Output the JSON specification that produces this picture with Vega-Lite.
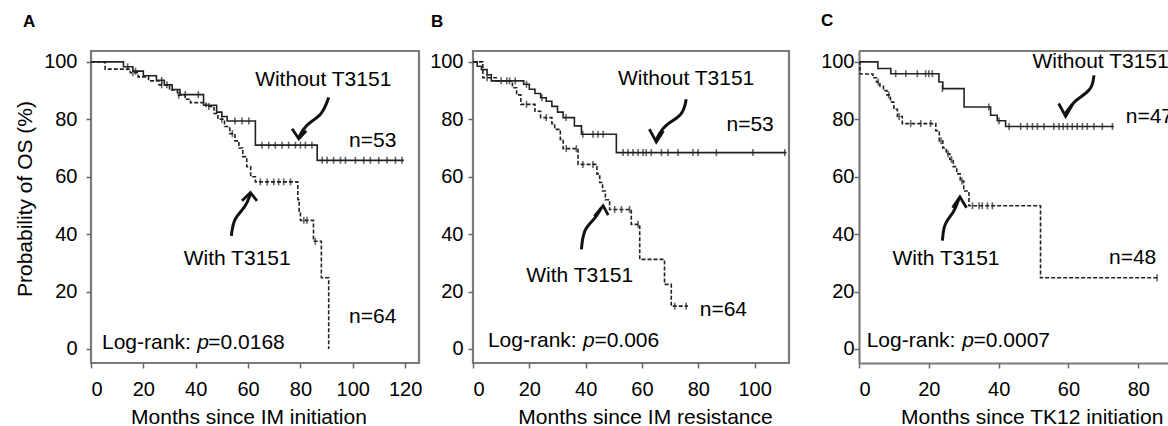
{
  "$schema": "https://vega.github.io/schema/vega-lite/v6.json",
  "description": "Kaplan-Meier OS curves with and without T3151, three panels",
  "padding": {"top": 11, "right": 0, "bottom": 0, "left": 13},
  "background": "white",
  "datasets": {
    "km": [
      {"panel": "A", "group": "Without", "months": 0, "os": 100},
      {"panel": "A", "group": "Without", "months": 12.4, "os": 98.3},
      {"panel": "A", "group": "Without", "months": 16, "os": 96.8},
      {"panel": "A", "group": "Without", "months": 20, "os": 95.2},
      {"panel": "A", "group": "Without", "months": 25, "os": 93.6},
      {"panel": "A", "group": "Without", "months": 28, "os": 92},
      {"panel": "A", "group": "Without", "months": 31, "os": 90.4},
      {"panel": "A", "group": "Without", "months": 34, "os": 88.6},
      {"panel": "A", "group": "Without", "months": 43, "os": 84.9},
      {"panel": "A", "group": "Without", "months": 48, "os": 82.5},
      {"panel": "A", "group": "Without", "months": 50, "os": 81},
      {"panel": "A", "group": "Without", "months": 52, "os": 79.4},
      {"panel": "A", "group": "Without", "months": 62.8, "os": 71},
      {"panel": "A", "group": "Without", "months": 86.4, "os": 65.7},
      {"panel": "A", "group": "Without", "months": 119.5, "os": 65.7},
      {"panel": "A", "group": "With", "months": 0, "os": 100},
      {"panel": "A", "group": "With", "months": 5.4, "os": 97.5},
      {"panel": "A", "group": "With", "months": 15, "os": 96.2},
      {"panel": "A", "group": "With", "months": 18, "os": 94.8},
      {"panel": "A", "group": "With", "months": 22, "os": 93.4},
      {"panel": "A", "group": "With", "months": 26, "os": 92},
      {"panel": "A", "group": "With", "months": 30, "os": 90.2},
      {"panel": "A", "group": "With", "months": 33, "os": 88.4},
      {"panel": "A", "group": "With", "months": 36, "os": 87},
      {"panel": "A", "group": "With", "months": 38, "os": 85.8},
      {"panel": "A", "group": "With", "months": 44, "os": 84.5},
      {"panel": "A", "group": "With", "months": 47, "os": 82},
      {"panel": "A", "group": "With", "months": 48.5, "os": 80},
      {"panel": "A", "group": "With", "months": 51, "os": 77.5},
      {"panel": "A", "group": "With", "months": 53, "os": 75},
      {"panel": "A", "group": "With", "months": 55, "os": 72.5},
      {"panel": "A", "group": "With", "months": 56.5, "os": 70},
      {"panel": "A", "group": "With", "months": 58, "os": 67},
      {"panel": "A", "group": "With", "months": 59.5, "os": 63.5},
      {"panel": "A", "group": "With", "months": 61, "os": 60},
      {"panel": "A", "group": "With", "months": 62.8, "os": 58.2},
      {"panel": "A", "group": "With", "months": 79, "os": 52},
      {"panel": "A", "group": "With", "months": 79.5, "os": 48},
      {"panel": "A", "group": "With", "months": 80, "os": 44.8},
      {"panel": "A", "group": "With", "months": 85, "os": 37.5},
      {"panel": "A", "group": "With", "months": 88, "os": 24.8},
      {"panel": "A", "group": "With", "months": 90.8, "os": 0},
      {"panel": "B", "group": "Without", "months": 0, "os": 100},
      {"panel": "B", "group": "Without", "months": 1.5, "os": 98.5},
      {"panel": "B", "group": "Without", "months": 3, "os": 97.3},
      {"panel": "B", "group": "Without", "months": 5, "os": 95.5},
      {"panel": "B", "group": "Without", "months": 6.5, "os": 93.4},
      {"panel": "B", "group": "Without", "months": 18, "os": 92.2},
      {"panel": "B", "group": "Without", "months": 20, "os": 90.5},
      {"panel": "B", "group": "Without", "months": 22, "os": 89},
      {"panel": "B", "group": "Without", "months": 24, "os": 87.5},
      {"panel": "B", "group": "Without", "months": 26, "os": 86.3},
      {"panel": "B", "group": "Without", "months": 28, "os": 84.5},
      {"panel": "B", "group": "Without", "months": 30, "os": 82.5},
      {"panel": "B", "group": "Without", "months": 32, "os": 80.6},
      {"panel": "B", "group": "Without", "months": 36, "os": 77.7},
      {"panel": "B", "group": "Without", "months": 38.5, "os": 74.8},
      {"panel": "B", "group": "Without", "months": 50.9, "os": 68.4},
      {"panel": "B", "group": "Without", "months": 111.3, "os": 68.4},
      {"panel": "B", "group": "With", "months": 0, "os": 100},
      {"panel": "B", "group": "With", "months": 3.5, "os": 94.5},
      {"panel": "B", "group": "With", "months": 8.3, "os": 93.4},
      {"panel": "B", "group": "With", "months": 14, "os": 91},
      {"panel": "B", "group": "With", "months": 15.5, "os": 88.5},
      {"panel": "B", "group": "With", "months": 17, "os": 85.2},
      {"panel": "B", "group": "With", "months": 22, "os": 82.8},
      {"panel": "B", "group": "With", "months": 24, "os": 80.6},
      {"panel": "B", "group": "With", "months": 28, "os": 78.5},
      {"panel": "B", "group": "With", "months": 29, "os": 76.5},
      {"panel": "B", "group": "With", "months": 31, "os": 73},
      {"panel": "B", "group": "With", "months": 32, "os": 69.8},
      {"panel": "B", "group": "With", "months": 37.3, "os": 64.3},
      {"panel": "B", "group": "With", "months": 44, "os": 61},
      {"panel": "B", "group": "With", "months": 45, "os": 58},
      {"panel": "B", "group": "With", "months": 46, "os": 55},
      {"panel": "B", "group": "With", "months": 47, "os": 52},
      {"panel": "B", "group": "With", "months": 48.5, "os": 48.6},
      {"panel": "B", "group": "With", "months": 56.2, "os": 43.4},
      {"panel": "B", "group": "With", "months": 59.2, "os": 31.2},
      {"panel": "B", "group": "With", "months": 68, "os": 22.5},
      {"panel": "B", "group": "With", "months": 70.4, "os": 14.9},
      {"panel": "B", "group": "With", "months": 76.3, "os": 14.9},
      {"panel": "C", "group": "Without", "months": 0, "os": 100},
      {"panel": "C", "group": "Without", "months": 5.4, "os": 97.7},
      {"panel": "C", "group": "Without", "months": 9.1, "os": 95.9},
      {"panel": "C", "group": "Without", "months": 22.9, "os": 93},
      {"panel": "C", "group": "Without", "months": 24, "os": 90.7},
      {"panel": "C", "group": "Without", "months": 30.1, "os": 84.3},
      {"panel": "C", "group": "Without", "months": 37.7, "os": 81.4},
      {"panel": "C", "group": "Without", "months": 39.6, "os": 79.5},
      {"panel": "C", "group": "Without", "months": 42, "os": 77.5},
      {"panel": "C", "group": "Without", "months": 73, "os": 77.5},
      {"panel": "C", "group": "With", "months": 0, "os": 100},
      {"panel": "C", "group": "With", "months": 0.3, "os": 95.8},
      {"panel": "C", "group": "With", "months": 4, "os": 94.5},
      {"panel": "C", "group": "With", "months": 5, "os": 93},
      {"panel": "C", "group": "With", "months": 6, "os": 91.5},
      {"panel": "C", "group": "With", "months": 7, "os": 90},
      {"panel": "C", "group": "With", "months": 8, "os": 88.5},
      {"panel": "C", "group": "With", "months": 9, "os": 86},
      {"panel": "C", "group": "With", "months": 10, "os": 83.5},
      {"panel": "C", "group": "With", "months": 11, "os": 81},
      {"panel": "C", "group": "With", "months": 12.4, "os": 78.5},
      {"panel": "C", "group": "With", "months": 22, "os": 76},
      {"panel": "C", "group": "With", "months": 23, "os": 72.5},
      {"panel": "C", "group": "With", "months": 24, "os": 70},
      {"panel": "C", "group": "With", "months": 25, "os": 68},
      {"panel": "C", "group": "With", "months": 26, "os": 66},
      {"panel": "C", "group": "With", "months": 27, "os": 63.5},
      {"panel": "C", "group": "With", "months": 28, "os": 61},
      {"panel": "C", "group": "With", "months": 29, "os": 58.5},
      {"panel": "C", "group": "With", "months": 30, "os": 55},
      {"panel": "C", "group": "With", "months": 31.5, "os": 49.9},
      {"panel": "C", "group": "With", "months": 52, "os": 24.8},
      {"panel": "C", "group": "With", "months": 85.4, "os": 24.8}
    ],
    "censor": [
      {"panel": "A", "group": "Without", "months": 14, "os": 98.3},
      {"panel": "A", "group": "Without", "months": 17, "os": 96.8},
      {"panel": "A", "group": "Without", "months": 27, "os": 93.6},
      {"panel": "A", "group": "Without", "months": 29, "os": 92},
      {"panel": "A", "group": "Without", "months": 36, "os": 88.6},
      {"panel": "A", "group": "Without", "months": 41, "os": 88.6},
      {"panel": "A", "group": "Without", "months": 55, "os": 79.4},
      {"panel": "A", "group": "Without", "months": 57.7, "os": 79.4},
      {"panel": "A", "group": "Without", "months": 60.3, "os": 79.4},
      {"panel": "A", "group": "Without", "months": 65.3, "os": 71},
      {"panel": "A", "group": "Without", "months": 67.9, "os": 71},
      {"panel": "A", "group": "Without", "months": 70.4, "os": 71},
      {"panel": "A", "group": "Without", "months": 73, "os": 71},
      {"panel": "A", "group": "Without", "months": 75.5, "os": 71},
      {"panel": "A", "group": "Without", "months": 78.1, "os": 71},
      {"panel": "A", "group": "Without", "months": 80, "os": 71},
      {"panel": "A", "group": "Without", "months": 81.9, "os": 71},
      {"panel": "A", "group": "Without", "months": 84.4, "os": 71},
      {"panel": "A", "group": "Without", "months": 88.3, "os": 65.7},
      {"panel": "A", "group": "Without", "months": 90.2, "os": 65.7},
      {"panel": "A", "group": "Without", "months": 92.7, "os": 65.7},
      {"panel": "A", "group": "Without", "months": 95.3, "os": 65.7},
      {"panel": "A", "group": "Without", "months": 97.2, "os": 65.7},
      {"panel": "A", "group": "Without", "months": 101, "os": 65.7},
      {"panel": "A", "group": "Without", "months": 104.2, "os": 65.7},
      {"panel": "A", "group": "Without", "months": 106.7, "os": 65.7},
      {"panel": "A", "group": "Without", "months": 109.9, "os": 65.7},
      {"panel": "A", "group": "Without", "months": 113.1, "os": 65.7},
      {"panel": "A", "group": "Without", "months": 116.3, "os": 65.7},
      {"panel": "A", "group": "Without", "months": 118.8, "os": 65.7},
      {"panel": "A", "group": "With", "months": 16, "os": 96.2},
      {"panel": "A", "group": "With", "months": 27, "os": 92},
      {"panel": "A", "group": "With", "months": 33.5, "os": 88.4},
      {"panel": "A", "group": "With", "months": 45, "os": 84.5},
      {"panel": "A", "group": "With", "months": 50, "os": 80},
      {"panel": "A", "group": "With", "months": 54, "os": 75},
      {"panel": "A", "group": "With", "months": 64.7, "os": 58.2},
      {"panel": "A", "group": "With", "months": 67.3, "os": 58.2},
      {"panel": "A", "group": "With", "months": 69.8, "os": 58.2},
      {"panel": "A", "group": "With", "months": 71.7, "os": 58.2},
      {"panel": "A", "group": "With", "months": 73.6, "os": 58.2},
      {"panel": "A", "group": "With", "months": 76.2, "os": 58.2},
      {"panel": "A", "group": "With", "months": 81.3, "os": 44.8},
      {"panel": "A", "group": "With", "months": 82.5, "os": 44.8},
      {"panel": "A", "group": "With", "months": 85.7, "os": 37.5},
      {"panel": "B", "group": "Without", "months": 10, "os": 93.4},
      {"panel": "B", "group": "Without", "months": 13, "os": 93.4},
      {"panel": "B", "group": "Without", "months": 15, "os": 93.4},
      {"panel": "B", "group": "Without", "months": 19, "os": 92.2},
      {"panel": "B", "group": "Without", "months": 24.5, "os": 87.5},
      {"panel": "B", "group": "Without", "months": 33, "os": 80.6},
      {"panel": "B", "group": "Without", "months": 39, "os": 74.8},
      {"panel": "B", "group": "Without", "months": 42.6, "os": 74.8},
      {"panel": "B", "group": "Without", "months": 44.4, "os": 74.8},
      {"panel": "B", "group": "Without", "months": 46.2, "os": 74.8},
      {"panel": "B", "group": "Without", "months": 53.3, "os": 68.4},
      {"panel": "B", "group": "Without", "months": 55, "os": 68.4},
      {"panel": "B", "group": "Without", "months": 56.8, "os": 68.4},
      {"panel": "B", "group": "Without", "months": 58.6, "os": 68.4},
      {"panel": "B", "group": "Without", "months": 60.4, "os": 68.4},
      {"panel": "B", "group": "Without", "months": 61.5, "os": 68.4},
      {"panel": "B", "group": "Without", "months": 63.3, "os": 68.4},
      {"panel": "B", "group": "Without", "months": 66.9, "os": 68.4},
      {"panel": "B", "group": "Without", "months": 69.2, "os": 68.4},
      {"panel": "B", "group": "Without", "months": 72.8, "os": 68.4},
      {"panel": "B", "group": "Without", "months": 78.1, "os": 68.4},
      {"panel": "B", "group": "Without", "months": 79.9, "os": 68.4},
      {"panel": "B", "group": "Without", "months": 86.4, "os": 68.4},
      {"panel": "B", "group": "Without", "months": 99.4, "os": 68.4},
      {"panel": "B", "group": "Without", "months": 110.7, "os": 68.4},
      {"panel": "B", "group": "With", "months": 5, "os": 94.5},
      {"panel": "B", "group": "With", "months": 12, "os": 93.4},
      {"panel": "B", "group": "With", "months": 19, "os": 85.2},
      {"panel": "B", "group": "With", "months": 26, "os": 80.6},
      {"panel": "B", "group": "With", "months": 33.1, "os": 69.8},
      {"panel": "B", "group": "With", "months": 36.7, "os": 69.8},
      {"panel": "B", "group": "With", "months": 39, "os": 64.3},
      {"panel": "B", "group": "With", "months": 42.6, "os": 64.3},
      {"panel": "B", "group": "With", "months": 50.3, "os": 48.6},
      {"panel": "B", "group": "With", "months": 52.7, "os": 48.6},
      {"panel": "B", "group": "With", "months": 55.6, "os": 48.6},
      {"panel": "B", "group": "With", "months": 58.6, "os": 43.4},
      {"panel": "B", "group": "With", "months": 71.6, "os": 14.9},
      {"panel": "B", "group": "With", "months": 75.7, "os": 14.9},
      {"panel": "C", "group": "Without", "months": 10.5, "os": 95.9},
      {"panel": "C", "group": "Without", "months": 13.4, "os": 95.9},
      {"panel": "C", "group": "Without", "months": 16.7, "os": 95.9},
      {"panel": "C", "group": "Without", "months": 19.1, "os": 95.9},
      {"panel": "C", "group": "Without", "months": 20, "os": 95.9},
      {"panel": "C", "group": "Without", "months": 21, "os": 95.9},
      {"panel": "C", "group": "Without", "months": 23.9, "os": 90.7},
      {"panel": "C", "group": "Without", "months": 37.2, "os": 84.3},
      {"panel": "C", "group": "Without", "months": 40.1, "os": 79.5},
      {"panel": "C", "group": "Without", "months": 43, "os": 77.5},
      {"panel": "C", "group": "Without", "months": 46.3, "os": 77.5},
      {"panel": "C", "group": "Without", "months": 48.2, "os": 77.5},
      {"panel": "C", "group": "Without", "months": 49.7, "os": 77.5},
      {"panel": "C", "group": "Without", "months": 51.1, "os": 77.5},
      {"panel": "C", "group": "Without", "months": 53, "os": 77.5},
      {"panel": "C", "group": "Without", "months": 55.8, "os": 77.5},
      {"panel": "C", "group": "Without", "months": 57.3, "os": 77.5},
      {"panel": "C", "group": "Without", "months": 58.5, "os": 77.5},
      {"panel": "C", "group": "Without", "months": 59.7, "os": 77.5},
      {"panel": "C", "group": "Without", "months": 61.1, "os": 77.5},
      {"panel": "C", "group": "Without", "months": 62.5, "os": 77.5},
      {"panel": "C", "group": "Without", "months": 64, "os": 77.5},
      {"panel": "C", "group": "Without", "months": 65.4, "os": 77.5},
      {"panel": "C", "group": "Without", "months": 67.3, "os": 77.5},
      {"panel": "C", "group": "Without", "months": 69.7, "os": 77.5},
      {"panel": "C", "group": "Without", "months": 72.6, "os": 77.5},
      {"panel": "C", "group": "With", "months": 5.5, "os": 93},
      {"panel": "C", "group": "With", "months": 8.5, "os": 88.5},
      {"panel": "C", "group": "With", "months": 11.5, "os": 81},
      {"panel": "C", "group": "With", "months": 14.8, "os": 78.5},
      {"panel": "C", "group": "With", "months": 17.7, "os": 78.5},
      {"panel": "C", "group": "With", "months": 20.5, "os": 78.5},
      {"panel": "C", "group": "With", "months": 23.5, "os": 72.5},
      {"panel": "C", "group": "With", "months": 25.5, "os": 68},
      {"panel": "C", "group": "With", "months": 26.5, "os": 66},
      {"panel": "C", "group": "With", "months": 29.5, "os": 58.5},
      {"panel": "C", "group": "With", "months": 32.5, "os": 49.9},
      {"panel": "C", "group": "With", "months": 34.4, "os": 49.9},
      {"panel": "C", "group": "With", "months": 35.3, "os": 49.9},
      {"panel": "C", "group": "With", "months": 36.8, "os": 49.9},
      {"panel": "C", "group": "With", "months": 38.2, "os": 49.9},
      {"panel": "C", "group": "With", "months": 85.4, "os": 24.8}
    ],
    "labels": [
      {"panel": "A", "label": "Without T3151", "months": 62.7, "os": 93.7},
      {"panel": "A", "label": "n=53", "months": 98.6, "os": 72.5},
      {"panel": "A", "label": "With T3151", "months": 35.4, "os": 31.3},
      {"panel": "A", "label": "n=64", "months": 98.6, "os": 11.3},
      {"panel": "A", "label": "Log-rank:", "months": 4.2, "os": 2.2},
      {"panel": "A", "label": "p", "months": 40.6, "os": 2.2},
      {"panel": "A", "label": "=0.0168", "months": 44.8, "os": 2.2},
      {"panel": "B", "label": "Without T3151", "months": 51.5, "os": 94},
      {"panel": "B", "label": "n=53", "months": 90, "os": 78},
      {"panel": "B", "label": "With T3151", "months": 18.9, "os": 25.4},
      {"panel": "B", "label": "n=64", "months": 80.5, "os": 13.4},
      {"panel": "B", "label": "Log-rank:", "months": 5.3, "os": 2.7},
      {"panel": "B", "label": "p", "months": 39.1, "os": 2.7},
      {"panel": "B", "label": "=0.006", "months": 43.1, "os": 2.7},
      {"panel": "C", "label": "Without T3151", "months": 49.7, "os": 100},
      {"panel": "C", "label": "n=47", "months": 76.4, "os": 80.8},
      {"panel": "C", "label": "With T3151", "months": 9.6, "os": 31.3},
      {"panel": "C", "label": "n=48", "months": 71.6, "os": 31.8},
      {"panel": "C", "label": "Log-rank:", "months": 2.2, "os": 2.7},
      {"panel": "C", "label": "p", "months": 29.6, "os": 2.7},
      {"panel": "C", "label": "=0.0007", "months": 32.8, "os": 2.7}
    ],
    "arrows": [
      {"panel": "A", "arrow": "A1", "part": "shaft", "ord": 1, "months": 90.8, "os": 87.6},
      {"panel": "A", "arrow": "A1", "part": "shaft", "ord": 2, "months": 88.3, "os": 81.2},
      {"panel": "A", "arrow": "A1", "part": "shaft", "ord": 3, "months": 81.9, "os": 78.3},
      {"panel": "A", "arrow": "A1", "part": "shaft", "ord": 4, "months": 79.4, "os": 73.6},
      {"panel": "A", "arrow": "A1", "part": "head", "ord": 1, "months": 76.8, "os": 76.7},
      {"panel": "A", "arrow": "A1", "part": "head", "ord": 2, "months": 79.4, "os": 73.2},
      {"panel": "A", "arrow": "A1", "part": "head", "ord": 3, "months": 82.2, "os": 76},
      {"panel": "A", "arrow": "A2", "part": "shaft", "ord": 1, "months": 53.6, "os": 39.4},
      {"panel": "A", "arrow": "A2", "part": "shaft", "ord": 2, "months": 54.5, "os": 45.7},
      {"panel": "A", "arrow": "A2", "part": "shaft", "ord": 3, "months": 59, "os": 49.2},
      {"panel": "A", "arrow": "A2", "part": "shaft", "ord": 4, "months": 60.9, "os": 53.9},
      {"panel": "A", "arrow": "A2", "part": "head", "ord": 1, "months": 57.7, "os": 51.6},
      {"panel": "A", "arrow": "A2", "part": "head", "ord": 2, "months": 60.9, "os": 54.5},
      {"panel": "A", "arrow": "A2", "part": "head", "ord": 3, "months": 63.4, "os": 51.6},
      {"panel": "B", "arrow": "B1", "part": "shaft", "ord": 1, "months": 75.7, "os": 87},
      {"panel": "B", "arrow": "B1", "part": "shaft", "ord": 2, "months": 74.6, "os": 81.2},
      {"panel": "B", "arrow": "B1", "part": "shaft", "ord": 3, "months": 68, "os": 78.3},
      {"panel": "B", "arrow": "B1", "part": "shaft", "ord": 4, "months": 65.1, "os": 73},
      {"panel": "B", "arrow": "B1", "part": "head", "ord": 1, "months": 62.6, "os": 76.6},
      {"panel": "B", "arrow": "B1", "part": "head", "ord": 2, "months": 65.1, "os": 72.1},
      {"panel": "B", "arrow": "B1", "part": "head", "ord": 3, "months": 67.6, "os": 75.9},
      {"panel": "B", "arrow": "B2", "part": "shaft", "ord": 1, "months": 38.5, "os": 34.7},
      {"panel": "B", "arrow": "B2", "part": "shaft", "ord": 2, "months": 39.2, "os": 41.8},
      {"panel": "B", "arrow": "B2", "part": "shaft", "ord": 3, "months": 43.2, "os": 45.1},
      {"panel": "B", "arrow": "B2", "part": "shaft", "ord": 4, "months": 45.6, "os": 49.2},
      {"panel": "B", "arrow": "B2", "part": "head", "ord": 1, "months": 43.1, "os": 46.3},
      {"panel": "B", "arrow": "B2", "part": "head", "ord": 2, "months": 46.2, "os": 49.9},
      {"panel": "B", "arrow": "B2", "part": "head", "ord": 3, "months": 48, "os": 46.6},
      {"panel": "C", "arrow": "C1", "part": "shaft", "ord": 1, "months": 67.3, "os": 95.3},
      {"panel": "C", "arrow": "C1", "part": "shaft", "ord": 2, "months": 66.8, "os": 90.1},
      {"panel": "C", "arrow": "C1", "part": "shaft", "ord": 3, "months": 61.6, "os": 86.6},
      {"panel": "C", "arrow": "C1", "part": "shaft", "ord": 4, "months": 59.2, "os": 82.1},
      {"panel": "C", "arrow": "C1", "part": "head", "ord": 1, "months": 57.2, "os": 85.5},
      {"panel": "C", "arrow": "C1", "part": "head", "ord": 2, "months": 59.2, "os": 81},
      {"panel": "C", "arrow": "C1", "part": "head", "ord": 3, "months": 61.2, "os": 85.2},
      {"panel": "C", "arrow": "C2", "part": "shaft", "ord": 1, "months": 23.9, "os": 37.7},
      {"panel": "C", "arrow": "C2", "part": "shaft", "ord": 2, "months": 24.3, "os": 43.9},
      {"panel": "C", "arrow": "C2", "part": "shaft", "ord": 3, "months": 27.2, "os": 47.4},
      {"panel": "C", "arrow": "C2", "part": "shaft", "ord": 4, "months": 28.6, "os": 52.3},
      {"panel": "C", "arrow": "C2", "part": "head", "ord": 1, "months": 26.8, "os": 49.2},
      {"panel": "C", "arrow": "C2", "part": "head", "ord": 2, "months": 28.9, "os": 53},
      {"panel": "C", "arrow": "C2", "part": "head", "ord": 3, "months": 30.8, "os": 49.2}
    ]
  },
  "hconcat": [
    {
      "width": 328,
      "height": 312,
      "title": {"text": "A", "dx": -68, "offset": 20},
      "layer": [
        {
          "data": {"name": "km"},
          "transform": [{"filter": "datum.panel == 'A'"}],
          "mark": {"type": "line", "interpolate": "step-after", "color": "#222", "strokeWidth": 1.6},
          "encoding": {
            "x": {"field": "months", "type": "quantitative", "scale": {"domain": [0, 125.3], "nice": false, "zero": false},
              "axis": {"values": [0, 20, 40, 60, 80, 100, 120], "title": "Months since IM initiation", "titleX": 157.5}},
            "y": {"field": "os", "type": "quantitative", "scale": {"domain": [-4.9, 103.8], "nice": false, "zero": false},
              "axis": {"values": [0, 20, 40, 60, 80, 100], "title": "Probability of OS (%)", "labelPadding": 9, "titleY": 147.5, "titlePadding": 8}},
            "strokeDash": {"field": "group", "type": "nominal", "scale": {"domain": ["Without", "With"], "range": [[1, 0], [4, 2]]}, "legend": null},
            "detail": {"field": "group"}
          }
        },
        {
          "data": {"name": "censor"},
          "transform": [{"filter": "datum.panel == 'A'"}],
          "mark": {"type": "tick", "orient": "vertical", "size": 7, "thickness": 1.6, "color": "#222"},
          "encoding": {
            "x": {"field": "months", "type": "quantitative"},
            "y": {"field": "os", "type": "quantitative"}
          }
        },
        {
          "data": {"name": "arrows"},
          "transform": [{"filter": "datum.panel == 'A' && datum.part == 'shaft'"}],
          "mark": {"type": "line", "interpolate": "basis", "color": "#111", "strokeWidth": 3},
          "encoding": {
            "x": {"field": "months", "type": "quantitative"},
            "y": {"field": "os", "type": "quantitative"},
            "detail": {"field": "arrow"},
            "order": {"field": "ord"}
          }
        },
        {
          "data": {"name": "arrows"},
          "transform": [{"filter": "datum.panel == 'A' && datum.part == 'head'"}],
          "mark": {"type": "line", "color": "#111", "strokeWidth": 2.8},
          "encoding": {
            "x": {"field": "months", "type": "quantitative"},
            "y": {"field": "os", "type": "quantitative"},
            "detail": {"field": "arrow"},
            "order": {"field": "ord"}
          }
        },
        {
          "data": {"name": "labels"},
          "transform": [{"filter": "datum.panel == 'A' && datum.label != 'p'"}],
          "mark": {"type": "text", "align": "left", "baseline": "middle", "fontSize": 21, "color": "#000"},
          "encoding": {
            "x": {"field": "months", "type": "quantitative"},
            "y": {"field": "os", "type": "quantitative"},
            "text": {"field": "label"}
          }
        },
        {
          "data": {"name": "labels"},
          "transform": [{"filter": "datum.panel == 'A' && datum.label == 'p'"}],
          "mark": {"type": "text", "align": "left", "baseline": "middle", "fontSize": 21, "fontStyle": "italic", "color": "#000"},
          "encoding": {
            "x": {"field": "months", "type": "quantitative"},
            "y": {"field": "os", "type": "quantitative"},
            "text": {"field": "label"}
          }
        }
      ]
    },
    {
      "spacing": 70,
      "bounds": "flush",
      "hconcat": [
        {
          "width": 316,
          "height": 312,
          "title": {"text": "B", "dx": -42, "offset": 20},
          "layer": [
            {
              "data": {"name": "km"},
              "transform": [{"filter": "datum.panel == 'B'"}],
              "mark": {"type": "line", "interpolate": "step-after", "color": "#222", "strokeWidth": 1.6},
              "encoding": {
                "x": {"field": "months", "type": "quantitative", "scale": {"domain": [0, 112.2], "nice": false, "zero": false},
                  "axis": {"values": [0, 20, 40, 60, 80, 100], "title": "Months since IM resistance", "titleX": 172}},
                "y": {"field": "os", "type": "quantitative", "scale": {"domain": [-4.9, 103.8], "nice": false, "zero": false},
                  "axis": {"values": [0, 20, 40, 60, 80, 100], "title": null, "labelPadding": 5}},
                "strokeDash": {"field": "group", "type": "nominal", "scale": {"domain": ["Without", "With"], "range": [[1, 0], [4, 2]]}, "legend": null},
                "detail": {"field": "group"}
              }
            },
            {
              "data": {"name": "censor"},
              "transform": [{"filter": "datum.panel == 'B'"}],
              "mark": {"type": "tick", "orient": "vertical", "size": 7, "thickness": 1.6, "color": "#222"},
              "encoding": {
                "x": {"field": "months", "type": "quantitative"},
                "y": {"field": "os", "type": "quantitative"}
              }
            },
            {
              "data": {"name": "arrows"},
              "transform": [{"filter": "datum.panel == 'B' && datum.part == 'shaft'"}],
              "mark": {"type": "line", "interpolate": "basis", "color": "#111", "strokeWidth": 3},
              "encoding": {
                "x": {"field": "months", "type": "quantitative"},
                "y": {"field": "os", "type": "quantitative"},
                "detail": {"field": "arrow"},
                "order": {"field": "ord"}
              }
            },
            {
              "data": {"name": "arrows"},
              "transform": [{"filter": "datum.panel == 'B' && datum.part == 'head'"}],
              "mark": {"type": "line", "color": "#111", "strokeWidth": 2.8},
              "encoding": {
                "x": {"field": "months", "type": "quantitative"},
                "y": {"field": "os", "type": "quantitative"},
                "detail": {"field": "arrow"},
                "order": {"field": "ord"}
              }
            },
            {
              "data": {"name": "labels"},
              "transform": [{"filter": "datum.panel == 'B' && datum.label != 'p'"}],
              "mark": {"type": "text", "align": "left", "baseline": "middle", "fontSize": 21, "color": "#000"},
              "encoding": {
                "x": {"field": "months", "type": "quantitative"},
                "y": {"field": "os", "type": "quantitative"},
                "text": {"field": "label"}
              }
            },
            {
              "data": {"name": "labels"},
              "transform": [{"filter": "datum.panel == 'B' && datum.label == 'p'"}],
              "mark": {"type": "text", "align": "left", "baseline": "middle", "fontSize": 21, "fontStyle": "italic", "color": "#000"},
              "encoding": {
                "x": {"field": "months", "type": "quantitative"},
                "y": {"field": "os", "type": "quantitative"},
                "text": {"field": "label"}
              }
            }
          ]
        },
        {
          "width": 310,
          "height": 312,
          "view": {"stroke": null},
          "title": {"text": "C", "dx": -38, "offset": 20},
          "layer": [
            {
              "data": {"name": "km"},
              "transform": [{"filter": "datum.panel == 'C'"}],
              "mark": {"type": "line", "interpolate": "step-after", "color": "#222", "strokeWidth": 1.6},
              "encoding": {
                "x": {"field": "months", "type": "quantitative", "scale": {"domain": [0, 88.8], "nice": false, "zero": false},
                  "axis": {"values": [0, 20, 40, 60, 80], "title": "Months since TK12 initiation", "titleX": 172.7, "domain": true, "domainColor": "#7a7a7a", "domainWidth": 2.2}},
                "y": {"field": "os", "type": "quantitative", "scale": {"domain": [-4.9, 103.8], "nice": false, "zero": false},
                  "axis": {"values": [0, 20, 40, 60, 80, 100], "title": null, "labelPadding": 0, "domain": true, "domainColor": "#7a7a7a", "domainWidth": 2.2}},
                "strokeDash": {"field": "group", "type": "nominal", "scale": {"domain": ["Without", "With"], "range": [[1, 0], [4, 2]]}, "legend": null},
                "detail": {"field": "group"}
              }
            },
            {
              "data": {"values": [{}]},
              "mark": {"type": "rule", "color": "#7a7a7a", "strokeWidth": 2.2},
              "encoding": {"y": {"datum": 103.8}}
            },
            {
              "data": {"name": "censor"},
              "transform": [{"filter": "datum.panel == 'C'"}],
              "mark": {"type": "tick", "orient": "vertical", "size": 7, "thickness": 1.6, "color": "#222"},
              "encoding": {
                "x": {"field": "months", "type": "quantitative"},
                "y": {"field": "os", "type": "quantitative"}
              }
            },
            {
              "data": {"name": "arrows"},
              "transform": [{"filter": "datum.panel == 'C' && datum.part == 'shaft'"}],
              "mark": {"type": "line", "interpolate": "basis", "color": "#111", "strokeWidth": 3},
              "encoding": {
                "x": {"field": "months", "type": "quantitative"},
                "y": {"field": "os", "type": "quantitative"},
                "detail": {"field": "arrow"},
                "order": {"field": "ord"}
              }
            },
            {
              "data": {"name": "arrows"},
              "transform": [{"filter": "datum.panel == 'C' && datum.part == 'head'"}],
              "mark": {"type": "line", "color": "#111", "strokeWidth": 2.8},
              "encoding": {
                "x": {"field": "months", "type": "quantitative"},
                "y": {"field": "os", "type": "quantitative"},
                "detail": {"field": "arrow"},
                "order": {"field": "ord"}
              }
            },
            {
              "data": {"name": "labels"},
              "transform": [{"filter": "datum.panel == 'C' && datum.label != 'p'"}],
              "mark": {"type": "text", "align": "left", "baseline": "middle", "fontSize": 21, "color": "#000", "clip": true},
              "encoding": {
                "x": {"field": "months", "type": "quantitative"},
                "y": {"field": "os", "type": "quantitative"},
                "text": {"field": "label"}
              }
            },
            {
              "data": {"name": "labels"},
              "transform": [{"filter": "datum.panel == 'C' && datum.label == 'p'"}],
              "mark": {"type": "text", "align": "left", "baseline": "middle", "fontSize": 21, "fontStyle": "italic", "color": "#000"},
              "encoding": {
                "x": {"field": "months", "type": "quantitative"},
                "y": {"field": "os", "type": "quantitative"},
                "text": {"field": "label"}
              }
            }
          ]
        }
      ]
    }
  ],
  "spacing": 54,
  "bounds": "flush",
  "config": {
    "font": "Liberation Sans",
    "view": {"stroke": "#7a7a7a", "strokeWidth": 2.2},
    "axis": {
      "domain": false,
      "grid": false,
      "tickSize": 5,
      "tickColor": "#666",
      "tickWidth": 1.5,
      "labelFontSize": 20,
      "labelColor": "#000",
      "titleFontSize": 21,
      "titleFontWeight": "normal",
      "titleColor": "#000"
    },
    "axisX": {"labelPadding": 11, "titlePadding": 7},
    "title": {"fontSize": 17, "fontWeight": "bold", "color": "#000", "anchor": "start", "frame": "group"}
  }
}
